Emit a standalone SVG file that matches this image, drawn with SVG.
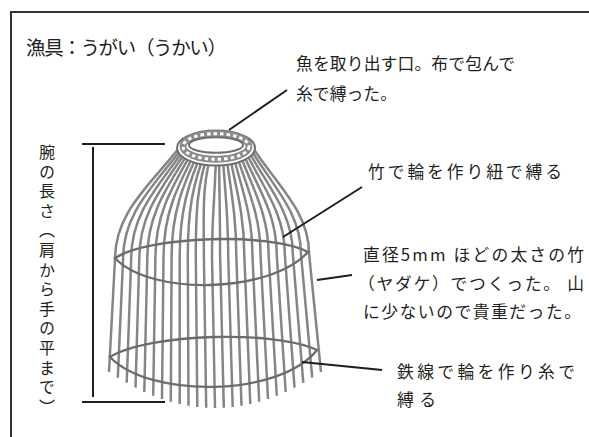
<svg xmlns="http://www.w3.org/2000/svg" width="589" height="437" viewBox="0 0 589 437">
  <style>
    .txt { font-family: "Noto Sans CJK JP", "Noto Sans", sans-serif; fill: #231f20; }
    .lbl { font-size: 16.8px; }
    .ttl { font-size: 19.5px; }
    .vert { font-size: 16px; writing-mode: vertical-rl; }
    .rib { fill: none; stroke: #858585; stroke-width: 2.5; }
    .hoop { fill: none; stroke: #6c6c6c; stroke-width: 2.3; }
    .lead { fill: none; stroke: #1e1e1e; stroke-width: 2; stroke-linecap: butt; }
    .frame { fill: none; stroke: #333; stroke-width: 2; }
  </style>
  <defs>
    <filter id="soft" x="-5%" y="-5%" width="110%" height="110%">
      <feGaussianBlur stdDeviation="0.45"/>
    </filter>
  </defs>

  <rect width="589" height="437" fill="#ffffff"/>

  <!-- outer frame (left and top edges) -->
  <path class="frame" d="M11,437 V12 H589"/>

  <g id="title">
    <text class="txt ttl" x="26" y="55" textLength="201" lengthAdjust="spacing">漁具：うがい（うかい）</text>
  </g>

  <!-- the trap basket: bamboo ribs, two hoops and a braided mouth ring -->
  <g id="basket" filter="url(#soft)">
    <g id="ribs">
      <path class="rib" d="M179.0,148 C150.2,185 115.0,212 115.0,259.0 L109.0,372.0"/>
      <path class="rib" d="M182.1,148 C154.8,185 123.1,212 123.1,258.8 L117.8,377.7"/>
      <path class="rib" d="M185.2,148 C159.5,185 131.2,212 131.2,258.5 L126.7,382.8"/>
      <path class="rib" d="M188.2,148 C164.1,185 139.3,212 139.3,258.3 L135.5,387.6"/>
      <path class="rib" d="M191.3,148 C168.8,185 147.3,212 147.3,258.0 L144.3,392.0"/>
      <path class="rib" d="M194.4,148 C173.4,185 155.4,212 155.4,257.8 L153.2,395.8"/>
      <path class="rib" d="M197.5,148 C178.1,185 163.5,212 163.5,257.5 L162.0,399.0"/>
      <path class="rib" d="M200.6,148 C182.7,185 171.6,212 171.6,257.3 L170.8,401.8"/>
      <path class="rib" d="M203.7,148 C187.4,185 179.7,212 179.7,257.0 L179.7,404.0"/>
      <path class="rib" d="M206.8,148 C192.0,185 187.8,212 187.8,256.8 L188.5,405.8"/>
      <path class="rib" d="M209.8,148 C196.7,185 195.8,212 195.8,256.5 L197.3,407.0"/>
      <path class="rib" d="M212.9,148 C201.3,185 203.9,212 203.9,256.3 L206.2,407.8"/>
      <path class="rib" d="M216.0,148 C216.0,185 212.0,212 212.0,256.0 L215.0,408.0"/>
      <path class="rib" d="M219.1,148 C219.1,185 220.1,212 220.1,255.8 L223.8,407.8"/>
      <path class="rib" d="M222.2,148 C224.4,185 228.2,212 228.2,255.5 L232.7,407.0"/>
      <path class="rib" d="M225.3,148 C229.6,185 236.3,212 236.3,255.3 L241.5,405.8"/>
      <path class="rib" d="M228.3,148 C234.9,185 244.3,212 244.3,255.0 L250.3,404.0"/>
      <path class="rib" d="M231.4,148 C240.2,185 252.4,212 252.4,254.8 L259.2,401.8"/>
      <path class="rib" d="M234.5,148 C245.4,185 260.5,212 260.5,254.5 L268.0,399.0"/>
      <path class="rib" d="M237.6,148 C250.7,185 268.6,212 268.6,254.3 L276.8,395.8"/>
      <path class="rib" d="M240.7,148 C256.0,185 276.7,212 276.7,254.0 L285.7,392.0"/>
      <path class="rib" d="M243.8,148 C261.2,185 284.8,212 284.8,253.8 L294.5,387.6"/>
      <path class="rib" d="M246.8,148 C266.5,185 292.8,212 292.8,253.5 L303.3,382.8"/>
      <path class="rib" d="M249.9,148 C271.8,185 300.9,212 300.9,253.3 L312.2,377.7"/>
      <path class="rib" d="M253.0,148 C277.0,185 309.0,212 309.0,253.0 L321.0,372.0"/>
    </g>
    <!-- bamboo hoop -->
    <path class="hoop" d="M115,258 C150,236 270,232 308,252 C270,294 150,296 115,258 Z"/>
    <!-- iron-wire hoop -->
    <path class="hoop" d="M110,357 C150,333 275,330 317,350 C280,397 150,399 110,357 Z"/>
    <!-- braided mouth ring -->
    <g id="mouth-ring">
      <ellipse cx="216" cy="148" rx="39" ry="17.5" fill="#ffffff" stroke="#6e6e6e" stroke-width="2"/>
      <ellipse cx="216" cy="146.5" rx="33" ry="12.8" fill="none" stroke="#8c8c8c" stroke-width="7"/>
      <ellipse cx="216" cy="146.5" rx="33" ry="12.8" fill="none" stroke="#ffffff" stroke-width="3" stroke-dasharray="3.5 3"/>
      <ellipse cx="216" cy="145" rx="27" ry="7.8" fill="#ffffff" stroke="#6e6e6e" stroke-width="2"/>
    </g>
  </g>

  <!-- arm-length dimension bracket -->
  <g id="dimension">
    <path class="lead" d="M82,144 H165 M93,147 V397 M82,402 H165"/>
    <text class="txt vert" x="47" y="144" style="letter-spacing:3.6px">腕の長さ（肩から手の平まで）</text>
  </g>

  <g id="label-mouth">
    <text class="txt lbl" x="296" y="70" textLength="219" lengthAdjust="spacing">魚を取り出す口。布で包んで</text>
    <text class="txt lbl" x="296" y="100" textLength="101" lengthAdjust="spacing">糸で縛った。</text>
  </g>

  <g id="label-bamboo-hoop">
    <text class="txt lbl" x="368" y="178" textLength="194" lengthAdjust="spacing">竹で輪を作り紐で縛る</text>
  </g>

  <g id="label-ribs">
    <text class="txt lbl" x="363" y="261" textLength="221" lengthAdjust="spacing">直径5mm ほどの太さの竹</text>
    <text class="txt lbl" x="358" y="290" textLength="226" lengthAdjust="spacing">（ヤダケ）でつくった。 山</text>
    <text class="txt lbl" x="363" y="318" textLength="218" lengthAdjust="spacing">に少ないので貴重だった。</text>
  </g>

  <g id="label-wire-hoop">
    <text class="txt lbl" x="397" y="378" textLength="178" lengthAdjust="spacing">鉄線で輪を作り糸で</text>
    <text class="txt lbl" x="397" y="406" textLength="39" lengthAdjust="spacing">縛る</text>
  </g>

  <g id="connectors">
    <path class="lead" d="M229,130 L287,90"/>
    <path class="lead" d="M283,237 L362,187"/>
    <path class="lead" d="M317,280 L352,275"/>
    <path class="lead" d="M302,362 L382,370"/>
  </g>
</svg>
